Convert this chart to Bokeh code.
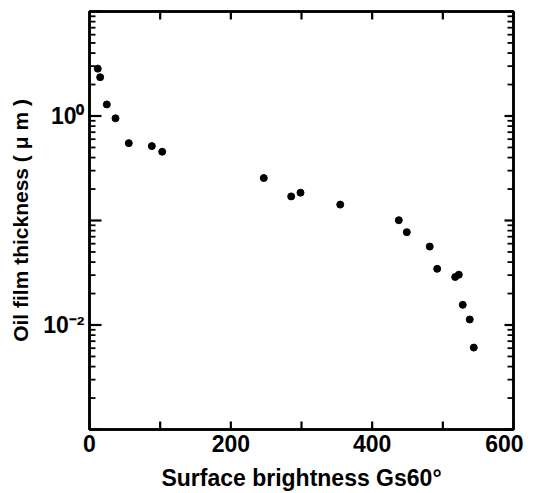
from bokeh.plotting import figure
from bokeh.models import LinearAxis, LogAxis, FixedTicker, CustomJSTickFormatter
from bokeh.embed import file_html
from bokeh.resources import INLINE

# Data
brightness = [11.7, 15.1, 24.5, 36.8, 55.6, 88.2, 102.9, 246.6, 285.4, 298.6,
              354.8, 437.7, 449.0, 481.5, 492.0, 517.5, 522.6, 528.2, 538.1, 543.8]
thickness = [2.84, 2.35, 1.29, 0.95, 0.55, 0.515, 0.455, 0.255, 0.170, 0.1845,
             0.142, 0.1006, 0.0774, 0.0563, 0.0345, 0.0288, 0.0303, 0.0156, 0.0113, 0.00608]

x_lo, x_hi = 0, 600
y_lo, y_hi = 1e-3, 10
x_major = [0, 200, 400, 600]
x_all = [0, 100, 200, 300, 400, 500, 600]
y_labelled = [1e-2, 1e0]
y_decades = [1e-3, 1e-2, 1e-1, 1e0, 1e1]
y_minor = [k * 10.0 ** d for d in range(-3, 1) for k in range(2, 10)]
y_labels = {"0": "10⁰", "-2": "10⁻²"}

FONT = "Liberation Sans"
FW, FH = 424, 418

p = figure(frame_width=FW, frame_height=FH, x_range=(x_lo, x_hi), y_range=(y_lo, y_hi),
           y_axis_type="log", output_backend="svg", toolbar_location=None,
           min_border_left=89, min_border_right=10, min_border_top=11,
           min_border_bottom=52)
p.grid.visible = False
p.outline_line_color = "black"
p.outline_line_width = 2.5
p.background_fill_color = "white"
p.border_fill_color = "white"

def style(ax):
    ax.axis_line_color = "black"
    ax.axis_line_width = 2.5
    ax.major_tick_out = 0
    ax.minor_tick_out = 0
    ax.major_tick_in = 0
    ax.minor_tick_in = 0
    ax.major_label_text_font = FONT
    ax.major_label_text_font_style = "bold"
    ax.major_label_text_color = "black"
    ax.major_label_text_font_size = "23px"

xa = p.xaxis[0]
xa.ticker = FixedTicker(ticks=x_major, minor_ticks=[])
style(xa)
xa.major_label_standoff = 5
xa.axis_label = "Surface brightness Gs60°"
xa.axis_label_text_font = FONT
xa.axis_label_text_font_style = "bold"
xa.axis_label_text_color = "black"
xa.axis_label_text_font_size = "23px"
xa.axis_label_standoff = 10

ya = p.yaxis[0]
ya.ticker = FixedTicker(ticks=y_labelled, minor_ticks=[])
ya.formatter = CustomJSTickFormatter(args=dict(labels=y_labels), code="""
const e = String(Math.round(Math.log10(tick)));
return (e in labels) ? labels[e] : '';
""")
style(ya)
ya.major_label_standoff = 5
ya.axis_label = "Oil film thickness ( μ m )"
ya.axis_label_text_font = FONT
ya.axis_label_text_font_style = "bold"
ya.axis_label_text_color = "black"
ya.axis_label_text_font_size = "21px"
ya.axis_label_standoff = 8

top = LinearAxis(ticker=FixedTicker(ticks=[], minor_ticks=[]))
style(top)
p.add_layout(top, "above")
right = LogAxis(ticker=FixedTicker(ticks=[], minor_ticks=[]))
style(right)
p.add_layout(right, "right")

# inward tick marks (lengths in px converted to data units)
px_per_decade = FH / 4.0
x_per_px = (x_hi - x_lo) / FW
def yfac(px):
    return 10 ** (px / px_per_decade)

def ticks(**kw):
    r = p.segment(line_color="black", **kw)
    r.level = "overlay"
    return r

nx = len(x_all)
ticks(x0=x_all, y0=[y_lo] * nx, x1=x_all, y1=[y_lo * yfac(8)] * nx, line_width=2.2)
ticks(x0=x_all, y0=[y_hi] * nx, x1=x_all, y1=[y_hi / yfac(8)] * nx, line_width=2.2)
nd, nm = len(y_decades), len(y_minor)
ticks(x0=[x_lo] * nd, y0=y_decades, x1=[x_lo + 12 * x_per_px] * nd, y1=y_decades, line_width=2.2)
ticks(x0=[x_lo] * nm, y0=y_minor, x1=[x_lo + 6 * x_per_px] * nm, y1=y_minor, line_width=1.8)
ticks(x0=[x_hi] * nd, y0=y_decades, x1=[x_hi - 9 * x_per_px] * nd, y1=y_decades, line_width=2.2)
ticks(x0=[x_hi] * nm, y0=y_minor, x1=[x_hi - 6 * x_per_px] * nm, y1=y_minor, line_width=1.8)

p.scatter(brightness, thickness, size=7, color="black")

open("out.html", "w").write(file_html(p, INLINE))
